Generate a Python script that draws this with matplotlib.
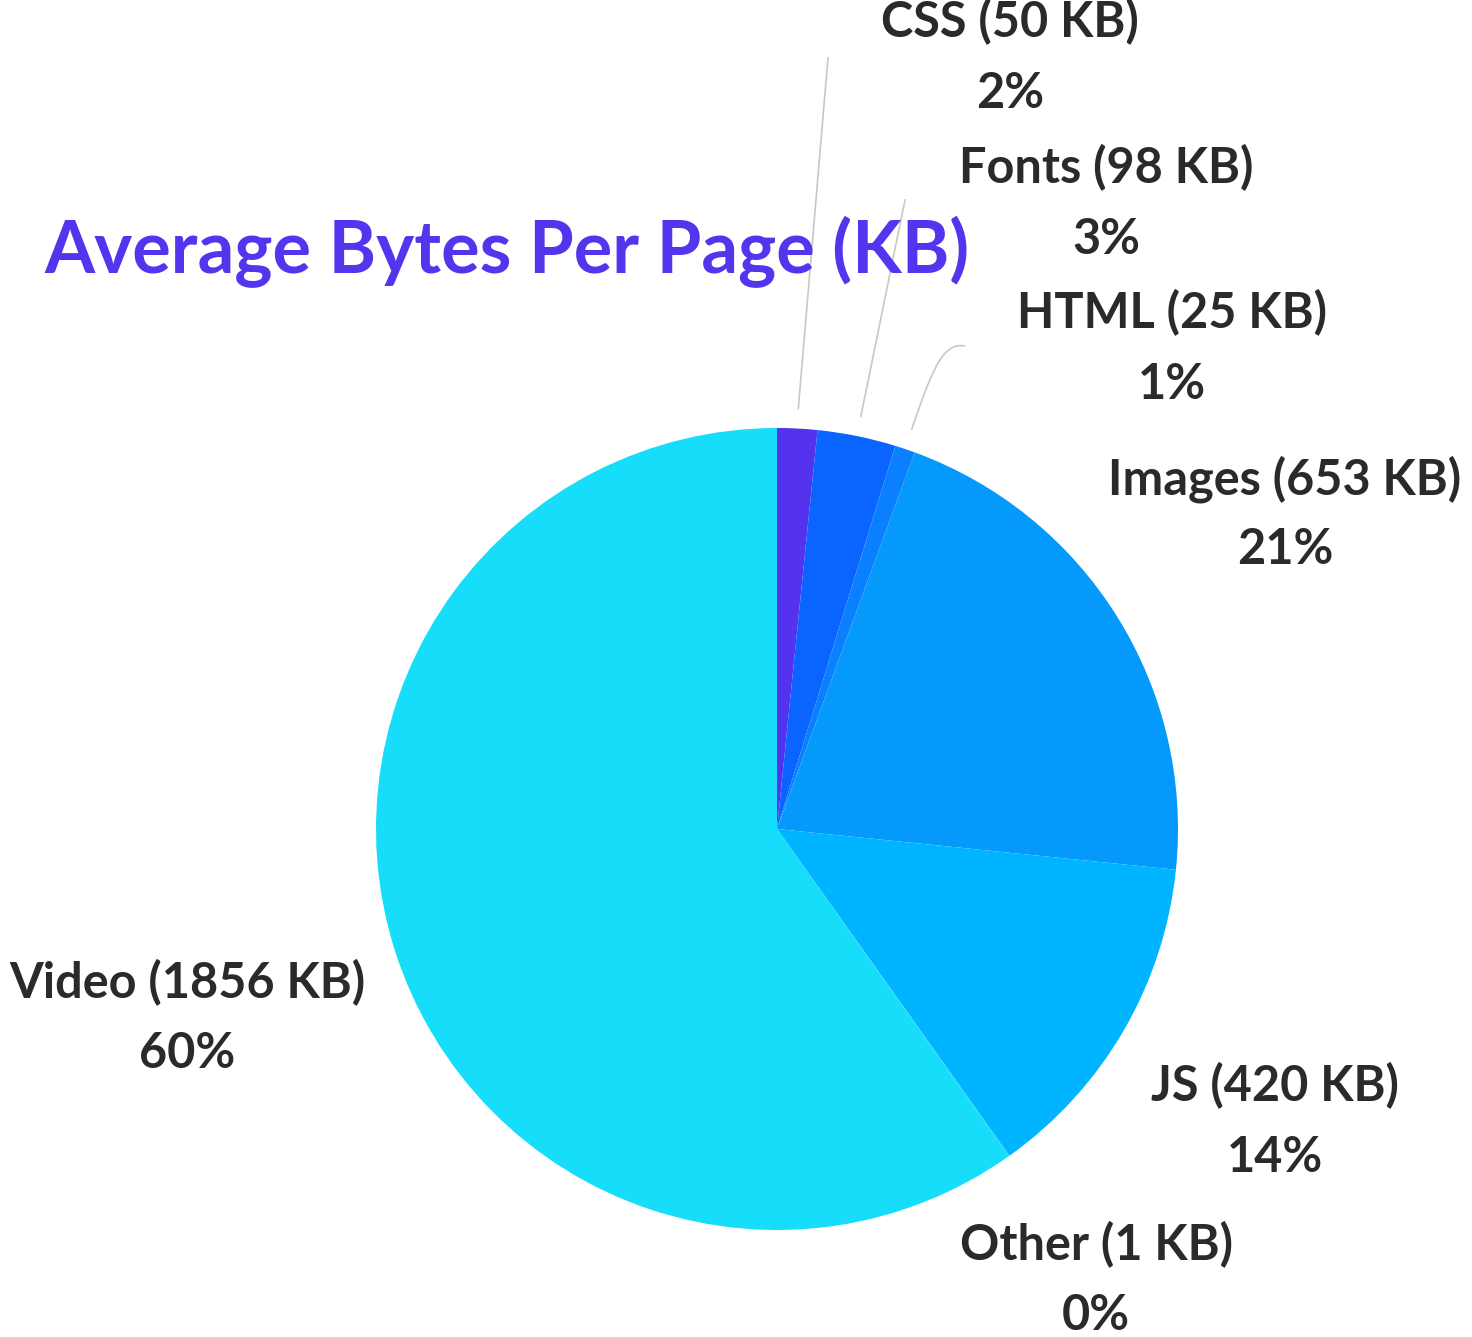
import numpy as np
import matplotlib
matplotlib.use("Agg")
import matplotlib.pyplot as plt
from matplotlib.path import Path
from matplotlib.patches import PathPatch

categories = ["CSS", "Fonts", "HTML", "Images", "JS", "Other", "Video"]
sizes_kb = [50, 98, 25, 653, 420, 1, 1856]
colors = ["#5533EE", "#0A64FF", "#0A80FF", "#0499FA", "#00B4FF", "#00C8FD", "#16DDFA"]
title = "Average Bytes Per Page (KB)"

W, H = 1472, 1337
fig = plt.figure(figsize=(W / 100, H / 100), dpi=100)
plt.rcParams['font.family'] = ['Lato', 'DejaVu Sans']

cx, cy, R = 777, 829, 401
ax = fig.add_axes([(cx - R) / W, (H - cy - R) / H, 2 * R / W, 2 * R / H])
ax.pie(sizes_kb, colors=colors, startangle=90, counterclock=False,
       wedgeprops=dict(linewidth=0), radius=1.0)
ax.set_xlim(-1, 1)
ax.set_ylim(-1, 1)
ax.set_aspect('equal')
ax.axis('off')

def fx(px):
    return px / W

def fy(py):
    return 1 - py / H

def to_data(px, py):
    return (px - cx) / R, (cy - py) / R

fig.text(fx(507), fy(252), title, color="#5236EE", fontsize=52, fontweight='bold',
         ha='center', va='center')

total = sum(sizes_kb)
label_pos = {
    "CSS": (1010, 22),
    "Fonts": (1106, 168),
    "HTML": (1172, 313),
    "Images": (1285, 479),
    "JS": (1275, 1086),
    "Other": (1096, 1245),
    "Video": (187, 983),
}
txtc = "#2a2a2a"
for cat, v in zip(categories, sizes_kb):
    x, y = label_pos[cat]
    fig.text(fx(x), fy(y), f"{cat} ({v} KB)", color=txtc, fontsize=35,
             fontweight='bold', ha='center', va='center')
    fig.text(fx(x), fy(y + 71), f"{round(100 * v / total)}%", color=txtc,
             fontsize=35, fontweight='bold', ha='center', va='center')

# leader lines for small slices
cum = np.cumsum([0] + sizes_kb)
mids = {c: (cum[i] + sizes_kb[i] / 2) / total * 2 * np.pi for i, c in enumerate(categories)}
ends = {"CSS": (828, 58), "Fonts": (905, 200), "HTML": (965, 346)}
for cat in ["CSS", "Fonts", "HTML"]:
    a = mids[cat]
    sx, sy = 1.05 * np.sin(a), 1.05 * np.cos(a)
    ex, ey = to_data(*ends[cat])
    if cat == "HTML":
        c1 = to_data(935, 360)
        c2 = to_data(945, 343)
        path = Path([(sx, sy), c1, c2, (ex, ey)],
                    [Path.MOVETO, Path.CURVE4, Path.CURVE4, Path.CURVE4])
        ax.add_patch(PathPatch(path, fc='none', ec='#c8c8c8', lw=1.2, clip_on=False))
    else:
        ax.plot([sx, ex], [sy, ey], color='#c8c8c8', lw=1.2, clip_on=False)

fig.savefig("out.png", dpi=100, facecolor='white')
